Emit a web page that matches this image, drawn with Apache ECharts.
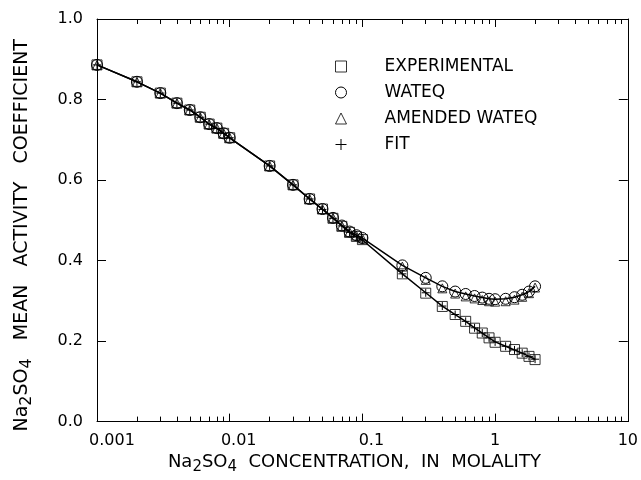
<!DOCTYPE html>
<html>
<head>
<meta charset="utf-8">
<script src="https://cdn.jsdelivr.net/npm/echarts@6/dist/echarts.min.js"></script>
<style>
  html, body { margin: 0; padding: 0; background: #fff; }
  #chart { width: 641px; height: 480px; }
</style>
</head>
<body>
<div id="chart"></div>
<script>
// Na2SO4 mean activity coefficient vs. molality (log x)

// concentrations, molality
const conc = [0.001, 0.002, 0.003, 0.004, 0.005, 0.006, 0.007, 0.008, 0.009, 0.01,
  0.02, 0.03, 0.04, 0.05, 0.06, 0.07, 0.08, 0.09, 0.1,
  0.2, 0.3, 0.4, 0.5, 0.6, 0.7, 0.8, 0.9, 1.0, 1.2, 1.4, 1.6, 1.8, 2.0];

const experimental = [0.886, 0.844, 0.816, 0.791, 0.774, 0.756, 0.739, 0.729, 0.716, 0.705,
  0.635, 0.588, 0.553, 0.528, 0.505, 0.485, 0.470, 0.460, 0.452,
  0.367, 0.319, 0.286, 0.266, 0.249, 0.232, 0.220, 0.208, 0.197, 0.187, 0.179, 0.170, 0.162, 0.154];

const wateq = [0.886, 0.844, 0.816, 0.791, 0.774, 0.756, 0.739, 0.729, 0.716, 0.705,
  0.635, 0.588, 0.553, 0.528, 0.506, 0.487, 0.472, 0.463, 0.456,
  0.388, 0.357, 0.336, 0.323, 0.317, 0.312, 0.308, 0.305, 0.304, 0.305, 0.309, 0.315, 0.323, 0.336];

const amended = [0.886, 0.844, 0.816, 0.791, 0.774, 0.756, 0.739, 0.729, 0.716, 0.705,
  0.635, 0.588, 0.553, 0.528, 0.506, 0.486, 0.471, 0.462, 0.455,
  0.385, 0.352, 0.331, 0.318, 0.311, 0.306, 0.302, 0.299, 0.298, 0.299, 0.303, 0.310, 0.319, 0.333];

const fit = [0.886, 0.844, 0.816, 0.791, 0.774, 0.756, 0.739, 0.728, 0.716, 0.705,
  0.635, 0.588, 0.553, 0.527, 0.505, 0.486, 0.470, 0.459, 0.451,
  0.367, 0.320, 0.287, 0.266, 0.249, 0.233, 0.220, 0.208, 0.198, 0.187, 0.178, 0.170, 0.162, 0.155];

const xTickLabels = ['0.001', '0.01', '0.1', '1', '10'];
const xLabelStyle = ['a', 'b', 'b', 'c', 'c'];   // original labels sit a bit right of the tick
const yTickLabels = ['0.0', '0.2', '0.4', '0.6', '0.8', '1.0'];
const legendNames = ['EXPERIMENTAL', 'WATEQ', 'AMENDED WATEQ', 'FIT'];

// minor ticks 2..9 in each decade, as log10 positions for a helper value axis
const xMinorTicks = [];
[-3, -2, -1, 0].forEach(e => {
  for (let k = 2; k <= 9; k++) xMinorTicks.push(e + Math.log10(k));
});

const FONT = 'DejaVu Sans';
const BLACK = '#000';
const PLUS = 'path://M5,0L5,10M0,5L10,5';

const pairs = ys => conc.map((c, i) => [c, ys[i]]);

const hollow = { color: 'transparent', borderColor: BLACK, borderWidth: 1 };

function nameRich(size) {
  return {
    n: { fontFamily: FONT, fontSize: size, color: BLACK },
    s: { fontFamily: FONT, fontSize: size - 3, color: BLACK, padding: [10, 0, 0, 0] },
  };
}

function logAxis(pos) {
  return {
    type: 'log', logBase: 10, min: 0.001, max: 10, position: pos, gridIndex: 0,
    axisLine: { show: true, onZero: false, lineStyle: { color: BLACK, width: 1 } },
    axisTick: { inside: true, length: 8, lineStyle: { color: BLACK, width: 1 } },
    axisLabel: { show: false },
    splitLine: { show: false },
  };
}

function minorAxis(pos) {
  return {
    type: 'value', min: -3, max: 1, position: pos, gridIndex: 0,
    axisLine: { show: false, onZero: false },
    axisTick: { inside: true, length: 5, customValues: xMinorTicks, lineStyle: { color: BLACK, width: 1 } },
    axisLabel: { show: false },
    splitLine: { show: false },
  };
}

const chart = echarts.init(document.getElementById('chart'));

const xMain = logAxis('bottom');
xMain.axisLabel = {
  show: true, margin: 11, fontFamily: FONT, fontSize: 16, color: BLACK,
  formatter: v => {
    const i = Math.round(Math.log10(v)) + 3;
    return '{' + xLabelStyle[i] + '|' + xTickLabels[i] + '}';
  },
  rich: {
    a: { fontFamily: FONT, fontSize: 16, color: BLACK, padding: [0, 0, 0, 30] },
    b: { fontFamily: FONT, fontSize: 16, color: BLACK, padding: [0, 0, 0, 18] },
    c: { fontFamily: FONT, fontSize: 16, color: BLACK },
  },
};
xMain.name = '{n|Na}{s|2}{n|SO}{s|4}{n|  CONCENTRATION,  IN  MOLALITY}';
xMain.nameLocation = 'middle';
xMain.nameGap = 26;
xMain.nameTextStyle = { fontFamily: FONT, fontSize: 18, color: BLACK, padding: [0, 16, 0, 0], rich: nameRich(18) };

function valueAxis(pos, withLabels) {
  return {
    type: 'value', min: 0, max: 1, interval: 0.2, position: pos, gridIndex: 0,
    axisLine: { show: true, onZero: false, lineStyle: { color: BLACK, width: 1 } },
    axisTick: { inside: true, length: 9, lineStyle: { color: BLACK, width: 1 } },
    axisLabel: withLabels
      ? { margin: 14, fontFamily: FONT, fontSize: 16, color: BLACK,
          formatter: v => yTickLabels[Math.round(v * 5)] }
      : { show: false },
    splitLine: { show: false },
  };
}

const yMain = valueAxis('left', true);
yMain.name = '{n|Na}{s|2}{n|SO}{s|4}{n|   MEAN   ACTIVITY   COEFFICIENT}';
yMain.nameLocation = 'middle';
yMain.nameRotate = 90;
yMain.nameGap = 62;
yMain.nameTextStyle = { fontFamily: FONT, fontSize: 19, color: BLACK, padding: [0, 30, 0, 0], rich: nameRich(19) };

const option = {
  animation: false,
  backgroundColor: '#fff',
  grid: { left: 97, right: 9, top: 19, bottom: 57, containLabel: false },
  xAxis: [xMain, logAxis('top'), minorAxis('bottom'), minorAxis('top')],
  yAxis: [yMain, valueAxis('right', false)],
  legend: {
    orient: 'vertical', left: 330, top: 53,
    itemWidth: 11, itemHeight: 11, itemGap: 9,
    selectedMode: false,
    formatter: n => '{t|' + n + '}',
    textStyle: {
      fontFamily: FONT, fontSize: 17, color: BLACK,
      rich: { t: { fontFamily: FONT, fontSize: 17, color: BLACK, padding: [0, 0, 0, 33] } },
    },
    data: [
      { name: legendNames[0], icon: 'rect', itemStyle: hollow },
      { name: legendNames[1], icon: 'circle', itemStyle: hollow },
      { name: legendNames[2], icon: 'triangle', itemStyle: hollow },
      { name: legendNames[3], icon: PLUS, itemStyle: hollow },
    ],
  },
  series: [
    {
      name: legendNames[1], type: 'line', data: pairs(wateq),
      symbol: 'circle', symbolSize: 11, itemStyle: hollow,
      lineStyle: { color: BLACK, width: 1.5 }, silent: true, z: 2,
    },
    {
      name: legendNames[3], type: 'line', data: pairs(fit),
      symbol: PLUS, symbolSize: 8, itemStyle: hollow,
      lineStyle: { color: BLACK, width: 1.5 }, silent: true, z: 2,
    },
    {
      name: legendNames[0], type: 'scatter', data: pairs(experimental),
      symbol: 'rect', symbolSize: 10, itemStyle: hollow, silent: true, z: 3,
    },
    {
      name: legendNames[2], type: 'scatter', data: pairs(amended),
      symbol: 'triangle', symbolSize: 9, itemStyle: hollow, silent: true, z: 3,
    },
  ],
};

chart.setOption(option);
</script>
</body>
</html>
